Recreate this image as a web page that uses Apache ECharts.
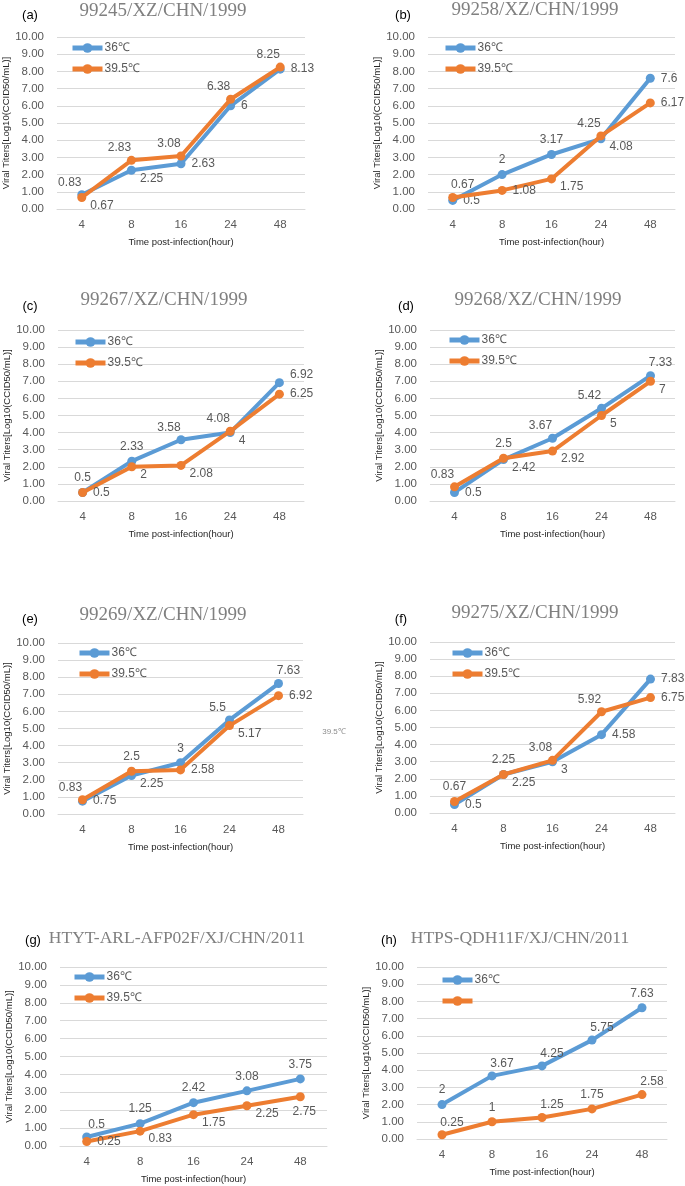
<!DOCTYPE html>
<html>
<head>
<meta charset="utf-8">
<script src="https://cdn.jsdelivr.net/npm/echarts@6/dist/echarts.min.js"></script>
<style>
html,body{margin:0;padding:0;background:#fff;}
#chart{width:685px;height:1186px;}
</style>
</head>
<body>
<div id="chart"></div>
<script>
// ---------- DATA ----------
const categories = ['4', '8', '16', '24', '48'];
const yTicks = [0, 10, 1]; // min, max, interval
const seriesNames = ['36℃', '39.5℃'];
const panelLetters = ['(a)', '(b)', '(c)', '(d)', '(e)', '(f)', '(g)', '(h)'];
const panelTitles = [
  '99245/XZ/CHN/1999', '99258/XZ/CHN/1999',
  '99267/XZ/CHN/1999', '99268/XZ/CHN/1999',
  '99269/XZ/CHN/1999', '99275/XZ/CHN/1999',
  'HTYT-ARL-AFP02F/XJ/CHN/2011', 'HTPS-QDH11F/XJ/CHN/2011'
];
const t36_a = [0.83, 2.25, 2.63, 6, 8.13];
const t395_a = [0.67, 2.83, 3.08, 6.38, 8.25];
const t36_b = [0.5, 2, 3.17, 4.08, 7.6];
const t395_b = [0.67, 1.08, 1.75, 4.25, 6.17];
const t36_c = [0.5, 2.33, 3.58, 4, 6.92];
const t395_c = [0.5, 2, 2.08, 4.08, 6.25];
const t36_d = [0.5, 2.42, 3.67, 5.42, 7.33];
const t395_d = [0.83, 2.5, 2.92, 5, 7];
const t36_e = [0.75, 2.25, 3, 5.5, 7.63];
const t395_e = [0.83, 2.5, 2.58, 5.17, 6.92];
const t36_f = [0.5, 2.25, 3, 4.58, 7.83];
const t395_f = [0.67, 2.25, 3.08, 5.92, 6.75];
const t36_g = [0.5, 1.25, 2.42, 3.08, 3.75];
const t395_g = [0.25, 0.83, 1.75, 2.25, 2.75];
const t36_h = [2, 3.67, 4.25, 5.75, 7.63];
const t395_h = [0.25, 1, 1.25, 1.75, 2.58];
const xName = 'Time post-infection(hour)';
const yName = 'Viral Titers[Log10(CCID50/mL)]';
const strayText = '39.5℃';

const values36 = [t36_a, t36_b, t36_c, t36_d, t36_e, t36_f, t36_g, t36_h];
const values395 = [t395_a, t395_b, t395_c, t395_d, t395_e, t395_f, t395_g, t395_h];

// ---------- LAYOUT / STYLE ----------
const grids = [
  {left: 57, top: 37, width: 248, height: 172},
  {left: 428, top: 37, width: 247, height: 172},
  {left: 58, top: 330, width: 246, height: 171},
  {left: 430, top: 330, width: 245, height: 171},
  {left: 58, top: 643, width: 245, height: 171},
  {left: 430, top: 642, width: 245, height: 171},
  {left: 60, top: 967, width: 267, height: 179},
  {left: 417, top: 967, width: 250, height: 172}
];
const titlePos = [[163, 11], [535, 10], [164, 300], [538, 300], [163, 615], [535, 613], [177, 938], [520, 938]];
const titleSize = [19, 19, 19, 19, 19, 19, 17.5, 17.5];
const letterPos = [[30, 15], [403, 15], [30, 306], [406, 306], [30, 619], [401, 619], [33, 940], [389, 940]];
const legendPos = [[70, 42], [443, 42], [73, 336], [447, 334], [77, 647], [450, 647], [72, 971], [440, 974]];
const place36 = [
  ['tl', 'br', 'r', 'r', 'r'],
  ['r', 't', 't', 'br', 'r'],
  ['t', 't', 'tl', 'br', 'tr2'],
  ['r', 'br', 'tl', 'tl', 'tr'],
  ['r', 'br', 't', 'tl', 'tr'],
  ['r', 'br', 'br', 'r', 'r'],
  ['tr', 't', 't', 't', 't'],
  ['t', 'tr', 'tr', 'tr', 't']
];
const place395 = [
  ['br', 'tl', 'tl', 'tl', 'tl'],
  ['tr', 'r', 'br', 'tl', 'r'],
  ['r', 'br', 'br', 'tl', 'r'],
  ['tl', 't', 'br', 'br', 'br'],
  ['tl', 't', 'r', 'br', 'r'],
  ['t', 't', 'tl', 'tl', 'r'],
  ['r', 'br', 'br', 'br', 'b'],
  ['tr', 't', 'tr', 't', 'tr']
];
const placeMap = {
  t: {position: 'top', offset: [0, 0]},
  tl: {position: 'top', offset: [-12, 2]},
  tr: {position: 'top', offset: [10, 2]},
  tr2: {position: 'right', offset: [2, -8]},
  r: {position: 'right', offset: [2, 0]},
  br: {position: 'right', offset: [0, 8]},
  b: {position: 'bottom', offset: [4, 0]}
};
const BLUE = '#5B9BD5', ORANGE = '#ED7D31';
const LABEL = '#595959';
const SANS = '"Liberation Sans", Arial, sans-serif';

const option = {
  animation: false,
  backgroundColor: '#fff',
  grid: [], xAxis: [], yAxis: [], series: [], legend: [], graphic: []
};

grids.forEach((g, i) => {
  option.grid.push(Object.assign({containLabel: false}, g));
  option.xAxis.push({
    type: 'category', gridIndex: i, data: categories, boundaryGap: true,
    axisLine: {show: true, lineStyle: {color: '#d9d9d9', width: 1}},
    axisTick: {show: false},
    axisLabel: {color: LABEL, fontSize: 11.5, fontFamily: SANS, margin: 10},
    name: xName, nameLocation: 'middle', nameGap: 28,
    nameTextStyle: {color: '#262626', fontSize: 9.5, fontFamily: SANS}
  });
  option.yAxis.push({
    type: 'value', gridIndex: i, min: yTicks[0], max: yTicks[1], interval: yTicks[2],
    axisLine: {show: false}, axisTick: {show: false},
    splitLine: {lineStyle: {color: '#d9d9d9', width: 1}},
    axisLabel: {color: LABEL, fontSize: 11.5, fontFamily: SANS, margin: 13,
      formatter: v => v.toFixed(2)},
    name: yName, nameLocation: 'middle', nameGap: 43, nameRotate: 90,
    nameTextStyle: {color: '#262626', fontSize: 9.5, fontFamily: SANS}
  });
  const mk = (vals, places, color, name) => ({
    type: 'line', name: name, xAxisIndex: i, yAxisIndex: i,
    symbol: 'circle', symbolSize: 9,
    lineStyle: {color: color, width: 4},
    itemStyle: {color: color},
    z: name === seriesNames[1] ? 3 : 2,
    data: vals.map((v, k) => ({
      value: v,
      label: Object.assign({show: true, color: LABEL, fontSize: 12, fontFamily: SANS,
        distance: 4, formatter: p => String(p.value)}, placeMap[places[k]])
    }))
  });
  option.series.push(mk(values36[i], place36[i], BLUE, seriesNames[0]));
  option.series.push(mk(values395[i], place395[i], ORANGE, seriesNames[1]));
  option.legend.push({
    orient: 'vertical', left: legendPos[i][0], top: legendPos[i][1], padding: 0,
    itemWidth: 30, itemHeight: 12, itemGap: 9,
    data: seriesNames,
    lineStyle: {width: 5},
    textStyle: {color: LABEL, fontSize: 12, fontFamily: SANS, padding: [5, 0, 0, -3]},
    formatter: i === 7 ? (n => n === seriesNames[1] ? '' : n) : (n => n),
    selectedMode: false
  });
  option.graphic.push({
    type: 'text', x: titlePos[i][0], y: titlePos[i][1], silent: true,
    style: {text: panelTitles[i], fill: '#808080', font: titleSize[i] + 'px "Liberation Serif", serif',
      align: 'center', verticalAlign: 'middle'}
  });
  option.graphic.push({
    type: 'text', x: letterPos[i][0], y: letterPos[i][1], silent: true,
    style: {text: panelLetters[i], fill: '#000', font: '13px ' + SANS,
      align: 'center', verticalAlign: 'middle'}
  });
});
option.graphic.push({
  type: 'text', x: 334, y: 732, silent: true,
  style: {text: strayText, fill: '#8c8c8c', font: '8px ' + SANS, align: 'center', verticalAlign: 'middle'}
});

const chart = echarts.init(document.getElementById('chart'), null, {renderer: 'canvas'});
chart.setOption(option);
</script>
</body>
</html>
